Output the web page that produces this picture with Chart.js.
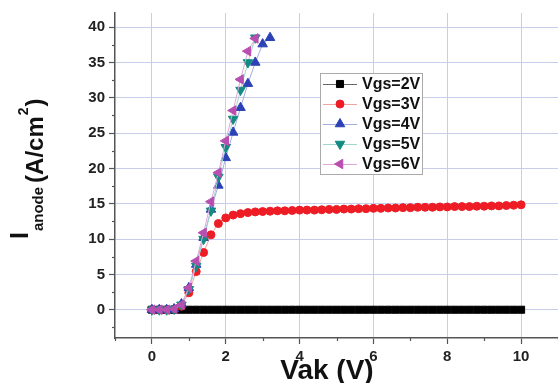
<!DOCTYPE html>
<html>
<head>
<meta charset="utf-8">
<script src="https://cdn.jsdelivr.net/npm/chart.js@4.4.1/dist/chart.umd.min.js"></script>
<style>
  body { margin: 0; background: #fff; }
  canvas { display: block; }
</style>
</head>
<body>
<canvas id="ivChart" width="558" height="383"></canvas>
<script>
// anode current density vs Vak, one curve per gate voltage
var vak = [0, 0.2, 0.4, 0.6, 0.8, 1, 1.2, 1.4, 1.6, 1.8, 2, 2.2, 2.4, 2.6, 2.8, 3, 3.2, 3.4, 3.6, 3.8,
	4, 4.2, 4.4, 4.6, 4.8, 5, 5.2, 5.4, 5.6, 5.8, 6, 6.2, 6.4, 6.6, 6.8, 7, 7.2, 7.4, 7.6, 7.8,
	8, 8.2, 8.4, 8.6, 8.8, 9, 9.2, 9.4, 9.6, 9.8, 10];
var vgs2 = [0, 0, 0, 0, 0, 0, 0, 0, 0, 0, 0, 0, 0, 0, 0, 0, 0, 0, 0, 0,
	0, 0, 0, 0, 0, 0, 0, 0, 0, 0, 0, 0, 0, 0, 0, 0, 0, 0, 0, 0,
	0, 0, 0, 0, 0, 0, 0, 0, 0, 0, 0];
var vgs3 = [0, 0, 0, 0.1, 0.5, 2.4, 5.4, 8.1, 10.6, 12.2, 13, 13.4, 13.6, 13.75, 13.85, 13.9, 13.95, 14, 14, 14.05,
	14.1, 14.1, 14.1, 14.15, 14.2, 14.2, 14.25, 14.25, 14.3, 14.3, 14.35, 14.35, 14.4, 14.4, 14.45, 14.45, 14.5, 14.5, 14.5, 14.55,
	14.55, 14.6, 14.6, 14.6, 14.65, 14.65, 14.7, 14.7, 14.75, 14.8, 14.85];
var vak4 = [0, 0.2, 0.4, 0.6, 0.8, 1, 1.2, 1.4, 1.6, 1.8, 2, 2.2, 2.4, 2.6, 2.8, 3, 3.2];
var vgs4 = [0, 0, 0, 0.1, 0.8, 3.1, 6.4, 10.2, 14.2, 17.6, 21.5, 25.1, 28.6, 32, 35, 37.6, 38.5];
var vak5 = [0, 0.2, 0.4, 0.6, 0.8, 1, 1.2, 1.4, 1.6, 1.8, 2, 2.2, 2.4, 2.6, 2.8];
var vgs5 = [0, 0, 0, 0.1, 0.7, 2.9, 6.2, 10, 14, 18.8, 23, 27, 31.1, 35, 38.5];
var vak6 = [0, 0.2, 0.4, 0.6, 0.8, 1, 1.2, 1.4, 1.6, 1.8, 2, 2.2, 2.4, 2.6, 2.8];
var vgs6 = [0, 0, 0, 0.1, 0.7, 3.1, 6.9, 10.9, 15.3, 19.4, 23.9, 28.2, 32.6, 36.6, 38.4];

var xMajor = [0, 2, 4, 6, 8, 10];
var xMinor = [-1, 1, 3, 5, 7, 9, 11];
var yMajor = [0, 5, 10, 15, 20, 25, 30, 35, 40];
var yMinor = [-2.5, 2.5, 7.5, 12.5, 17.5, 22.5, 27.5, 32.5, 37.5];

var FONT = "'Liberation Sans', Arial, sans-serif";

function pts(xs, ys) {
	return xs.map(function (x, i) { return { x: x, y: ys[i] }; });
}

function series(label, xs, ys, color, lineColor, style, radius, rotation, order) {
	return {
		label: label,
		data: pts(xs, ys),
		showLine: true,
		borderColor: lineColor,
		borderWidth: 1,
		backgroundColor: color,
		pointBackgroundColor: color,
		pointBorderColor: color,
		pointBorderWidth: 1,
		pointStyle: style,
		pointRadius: radius,
		pointRotation: rotation,
		order: order,
		clip: false
	};
}

function noPad(s) {
	s.paddingLeft = 0;
	s.paddingRight = 0;
	s.paddingTop = 0;
	s.paddingBottom = 0;
}

// minor ticks, axis titles and the boxed legend
var extras = {
	id: 'extras',
	afterDraw: function (chart) {
		var ctx = chart.ctx;
		var xs = chart.scales.x, ys = chart.scales.y;
		var area = chart.chartArea;
		ctx.save();
		ctx.strokeStyle = '#555';
		ctx.lineWidth = 1.2;
		xMinor.forEach(function (v) {
			var px = Math.round(xs.getPixelForValue(v)) + 0.5;
			ctx.beginPath();
			ctx.moveTo(px, area.bottom);
			ctx.lineTo(px, area.bottom + 3);
			ctx.stroke();
		});
		yMinor.forEach(function (v) {
			var py = Math.round(ys.getPixelForValue(v)) + 0.5;
			ctx.beginPath();
			ctx.moveTo(area.left - 3, py);
			ctx.lineTo(area.left, py);
			ctx.stroke();
		});

		// x title
		ctx.fillStyle = '#111';
		ctx.font = 'bold 28px ' + FONT;
		ctx.textAlign = 'center';
		ctx.textBaseline = 'alphabetic';
		ctx.fillText('Vak (V)', 327, 379);

		// y title, rotated: I_anode (A/cm^2)
		ctx.save();
		ctx.translate(43, 239);
		ctx.rotate(-Math.PI / 2);
		ctx.textAlign = 'left';
		var cx = 0;
		ctx.font = 'bold 25px ' + FONT;
		ctx.fillText('I', cx, -15);
		cx += ctx.measureText('I').width + 1;
		ctx.font = 'bold 15px ' + FONT;
		ctx.fillText('anode', cx, 0);
		cx += ctx.measureText('anode').width + 4;
		ctx.font = 'bold 24px ' + FONT;
		ctx.fillText('(A/cm', cx, 0);
		cx += ctx.measureText('(A/cm').width + 1;
		ctx.font = 'bold 14px ' + FONT;
		ctx.fillText('2', cx, -15);
		cx += ctx.measureText('2').width + 1;
		ctx.font = 'bold 24px ' + FONT;
		ctx.fillText(')', cx, 0);
		ctx.restore();

		// legend box
		ctx.fillStyle = '#fff';
		ctx.fillRect(320, 73, 102, 101);
		ctx.strokeStyle = '#aaa';
		ctx.lineWidth = 1;
		ctx.strokeRect(320.5, 73.5, 102, 101);
		chart.data.datasets.forEach(function (ds, i) {
			var ry = 84 + i * 20;
			ctx.strokeStyle = ds.borderColor;
			ctx.lineWidth = 1;
			ctx.beginPath();
			ctx.moveTo(323, ry + 0.5);
			ctx.lineTo(357, ry + 0.5);
			ctx.stroke();
			ctx.fillStyle = ds.pointBackgroundColor;
			ctx.strokeStyle = ds.pointBorderColor;
			if (Chart.helpers && Chart.helpers.drawPoint) {
				Chart.helpers.drawPoint(ctx, {
					pointStyle: ds.pointStyle,
					radius: ds.pointRadius,
					rotation: ds.pointRotation,
					borderWidth: 1
				}, 340, ry);
			}
			ctx.fillStyle = '#111';
			ctx.font = 'bold 16px ' + FONT;
			ctx.textAlign = 'left';
			ctx.textBaseline = 'middle';
			ctx.fillText(ds.label, 362, ry + 1);
		});
		ctx.restore();
	}
};

var ctxIV = document.getElementById('ivChart').getContext('2d');
var ivChart = new Chart(ctxIV, {
	type: 'scatter',
	data: {
		datasets: [
			series('Vgs=2V', vak, vgs2, '#000000', '#666666', 'rect', 5, 0, 4),
			series('Vgs=3V', vak, vgs3, '#ee1c24', '#f4a3a3', 'circle', 4, 0, 3),
			series('Vgs=4V', vak4, vgs4, '#2b41b5', '#a3acdf', 'triangle', 5.5, 0, 2),
			series('Vgs=5V', vak5, vgs5, '#138b80', '#9fd6cd', 'triangle', 5.5, 180, 1),
			series('Vgs=6V', vak6, vgs6, '#b84fb0', '#e0a6dc', 'triangle', 5.5, 270, 0)
		]
	},
	options: {
		responsive: false,
		animation: false,
		layout: { autoPadding: false, padding: { top: 13, right: 0, bottom: 0, left: 0 } },
		plugins: {
			legend: { display: false },
			tooltip: { enabled: false }
		},
		scales: {
			x: {
				type: 'linear',
				min: -1,
				max: 11,
				afterBuildTicks: function (s) { s.ticks = xMajor.map(function (v) { return { value: v }; }); },
				afterFit: function (s) { s.height = 45; noPad(s); },
				ticks: {
					color: '#222',
					font: { family: FONT, size: 15, weight: 'bold' },
					padding: 4,
					maxRotation: 0
				},
				grid: { color: '#c8cdea', lineWidth: 1, tickLength: 6, tickColor: '#555', tickWidth: 1.2 },
				border: { color: '#555', width: 1.5 }
			},
			y: {
				type: 'linear',
				min: -4,
				max: 42,
				afterBuildTicks: function (s) { s.ticks = yMajor.map(function (v) { return { value: v }; }); },
				afterFit: function (s) { s.width = 115; noPad(s); },
				ticks: {
					color: '#222',
					font: { family: FONT, size: 15, weight: 'bold' },
					padding: 4
				},
				grid: { color: '#c8cdea', lineWidth: 1, tickLength: 6, tickColor: '#555', tickWidth: 1.2 },
				border: { color: '#555', width: 1.5 }
			}
		}
	},
	plugins: [extras]
});
</script>
</body>
</html>
